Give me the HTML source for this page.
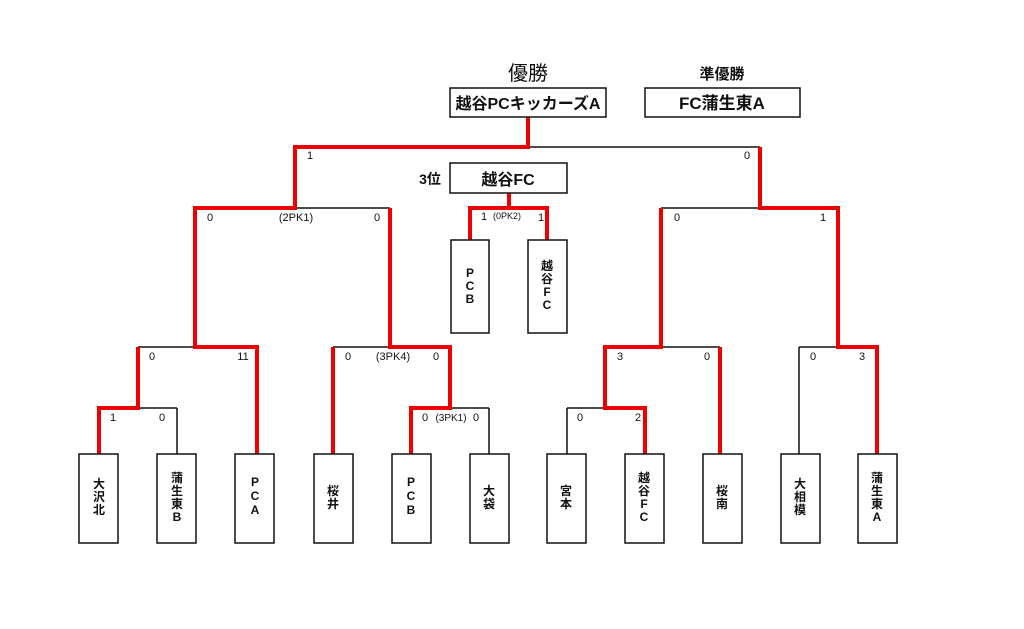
<!DOCTYPE html>
<html><head><meta charset="utf-8"><style>
html,body{margin:0;padding:0;background:#fff;}
svg{display:block;}
text{font-family:"Liberation Sans","Noto Sans CJK JP",sans-serif;fill:#111;}
.s{font-size:11px;}
.b{font-size:12px;font-weight:bold;}
</style></head><body>
<svg width="1024" height="629" viewBox="0 0 1024 629" xmlns="http://www.w3.org/2000/svg">
<rect width="1024" height="629" fill="#fff"/>
<g fill="none" stroke="#111" stroke-width="1.5">
<!-- black lines -->
<line x1="528" y1="147" x2="760" y2="147"/>
<line x1="296" y1="208" x2="390" y2="208"/>
<line x1="138" y1="347" x2="195" y2="347"/>
<line x1="138" y1="408" x2="177" y2="408"/>
<line x1="177" y1="408" x2="177" y2="454"/>
<line x1="333" y1="347" x2="392" y2="347"/>
<line x1="450" y1="408" x2="489" y2="408"/>
<line x1="489" y1="408" x2="489" y2="454"/>
<line x1="661" y1="208" x2="760" y2="208"/>
<line x1="662" y1="347" x2="720" y2="347"/>
<line x1="567" y1="408" x2="605" y2="408"/>
<line x1="567" y1="408" x2="567" y2="454"/>
<line x1="799" y1="347" x2="838" y2="347"/>
<line x1="799" y1="347" x2="799" y2="454"/>
</g>
<g fill="none" stroke="#e00" stroke-width="4" stroke-linejoin="miter">
<polyline points="528,117 528,147 295,147 295,208 195,208 195,347 257,347 257,454"/>
<polyline points="99,454 99,408 138,408 138,347"/>
<polyline points="390,208 390,347 450,347 450,408 411,408 411,454"/>
<polyline points="392,347 392,347"/>
<polyline points="333,347 333,454"/>
<polyline points="760,147 760,208 838,208 838,347 877,347 877,454"/>
<polyline points="661,208 661,347 605,347 605,408 645,408 645,454"/>
<polyline points="720,347 720,454"/>
<polyline points="509,193 509,208 470,208 470,240"/>
<polyline points="509,208 547,208 547,240"/>
</g>
<g fill="#fff" stroke="#111" stroke-width="1.5">
<rect x="450" y="88" width="156" height="29"/>
<rect x="645" y="88" width="155" height="29"/>
<rect x="450" y="163" width="117" height="30"/>
<rect x="451" y="240" width="38" height="93"/>
<rect x="528" y="240" width="39" height="93"/>
<rect x="79" y="454" width="39" height="89"/>
<rect x="157" y="454" width="39" height="89"/>
<rect x="235" y="454" width="39" height="89"/>
<rect x="314" y="454" width="39" height="89"/>
<rect x="392" y="454" width="39" height="89"/>
<rect x="470" y="454" width="39" height="89"/>
<rect x="547" y="454" width="39" height="89"/>
<rect x="625" y="454" width="39" height="89"/>
<rect x="703" y="454" width="39" height="89"/>
<rect x="781" y="454" width="39" height="89"/>
<rect x="858" y="454" width="39" height="89"/>
</g>
<text x="528" y="80" font-size="20" text-anchor="middle">優勝</text>
<text x="722" y="79" font-size="15" font-weight="bold" text-anchor="middle">準優勝</text>
<text x="528" y="109" font-size="16" font-weight="bold" text-anchor="middle">越谷PCキッカーズA</text>
<text x="722" y="109" font-size="17" font-weight="bold" text-anchor="middle">FC蒲生東A</text>
<text x="430" y="184" font-size="14" font-weight="bold" text-anchor="middle">3位</text>
<text x="508" y="185" font-size="16" font-weight="bold" text-anchor="middle">越谷FC</text>
<g class="s" text-anchor="middle">
<text x="310" y="159">1</text><text x="747" y="159">0</text>
<text x="210" y="221">0</text><text x="296" y="221">(2PK1)</text><text x="377" y="221">0</text>
<text x="484" y="220">1</text><text x="507" y="219" font-size="9">(0PK2)</text><text x="541" y="221">1</text>
<text x="677" y="221">0</text><text x="823" y="221">1</text>
<text x="152" y="360">0</text><text x="243" y="360">11</text>
<text x="348" y="360">0</text><text x="393" y="360">(3PK4)</text><text x="436" y="360">0</text>
<text x="620" y="360">3</text><text x="707" y="360">0</text>
<text x="813" y="360">0</text><text x="862" y="360">3</text>
<text x="113" y="421">1</text><text x="162" y="421">0</text>
<text x="425" y="421">0</text><text x="451" y="421" font-size="10">(3PK1)</text><text x="476" y="421">0</text>
<text x="580" y="421">0</text><text x="638" y="421">2</text>
</g>
<g class="b" text-anchor="middle">
<text x="470" y="277">P</text><text x="470" y="290">C</text><text x="470" y="303">B</text>
<text x="547" y="270">越</text><text x="547" y="283">谷</text><text x="547" y="296">F</text><text x="547" y="309">C</text>
<text x="99" y="488">大</text><text x="99" y="501">沢</text><text x="99" y="514">北</text>
<text x="177" y="482">蒲</text><text x="177" y="495">生</text><text x="177" y="508">東</text><text x="177" y="521">B</text>
<text x="255" y="486">P</text><text x="255" y="500">C</text><text x="255" y="514">A</text>
<text x="333" y="495">桜</text><text x="333" y="508">井</text>
<text x="411" y="486">P</text><text x="411" y="500">C</text><text x="411" y="514">B</text>
<text x="489" y="495">大</text><text x="489" y="508">袋</text>
<text x="566" y="495">宮</text><text x="566" y="508">本</text>
<text x="644" y="482">越</text><text x="644" y="495">谷</text><text x="644" y="508">F</text><text x="644" y="521">C</text>
<text x="722" y="495">桜</text><text x="722" y="508">南</text>
<text x="800" y="488">大</text><text x="800" y="501">相</text><text x="800" y="514">模</text>
<text x="877" y="482">蒲</text><text x="877" y="495">生</text><text x="877" y="508">東</text><text x="877" y="521">A</text>
</g>
</svg>
</body></html>
